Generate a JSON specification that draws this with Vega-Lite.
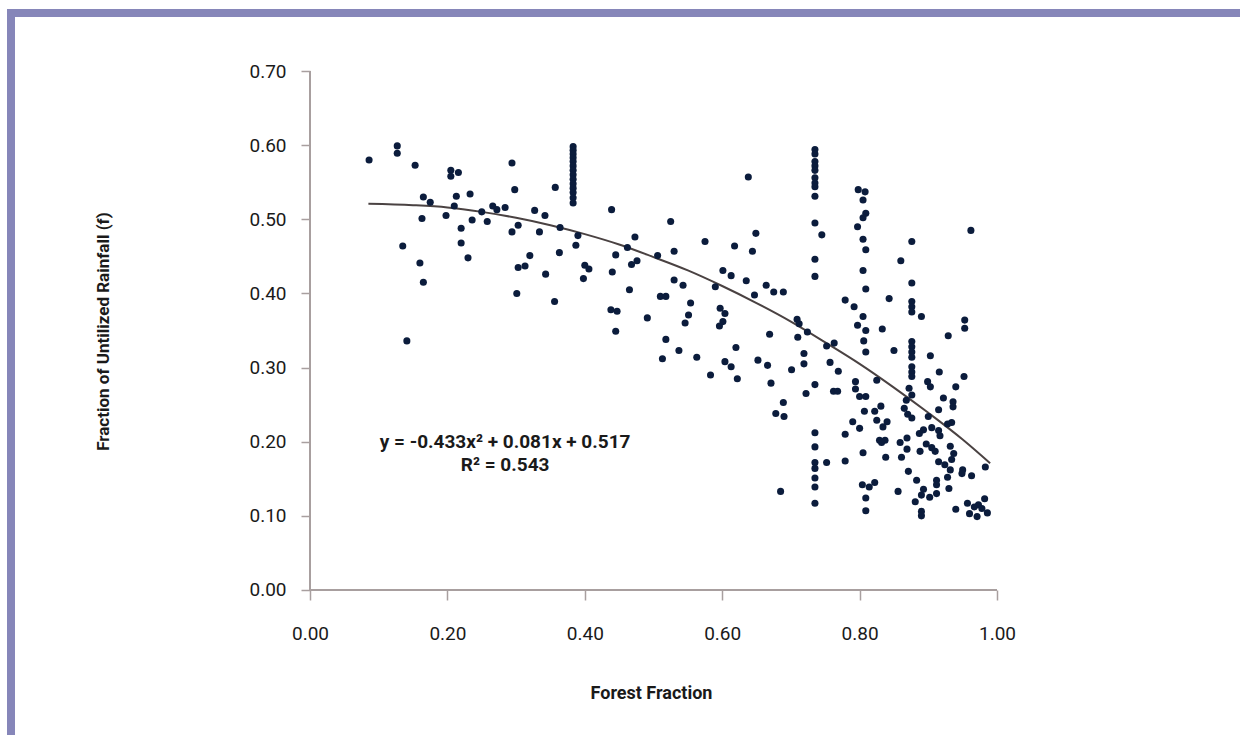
{
  "$schema": "https://vega.github.io/schema/vega-lite/v6.json",
  "width": 1229,
  "height": 722,
  "autosize": {"type": "none"},
  "padding": {"left": 11, "top": 13, "right": 0, "bottom": 0},
  "background": "white",
  "config": {
    "view": {"stroke": "#8686b9", "strokeWidth": 8, "strokeDash": [1229, 1951, 722, 0], "strokeCap": "square", "fill": "white"},
    "font": "Roboto, Liberation Sans, sans-serif"
  },
  "datasets": {
    "points": [
      {"forest":0.086,"f":0.580},{"forest":0.127,"f":0.599},{"forest":0.127,"f":0.589},{"forest":0.153,"f":0.573},{"forest":0.205,"f":0.566},{"forest":0.216,"f":0.563},{"forest":0.205,"f":0.558},{"forest":0.294,"f":0.576},{"forest":0.298,"f":0.540},{"forest":0.357,"f":0.543},{"forest":0.165,"f":0.530},{"forest":0.175,"f":0.523},{"forest":0.213,"f":0.531},{"forest":0.233,"f":0.534},{"forest":0.210,"f":0.518},{"forest":0.163,"f":0.501},{"forest":0.198,"f":0.505},{"forest":0.236,"f":0.499},{"forest":0.220,"f":0.488},{"forest":0.250,"f":0.510},{"forest":0.258,"f":0.497},{"forest":0.266,"f":0.518},{"forest":0.272,"f":0.513},{"forest":0.284,"f":0.516},{"forest":0.294,"f":0.483},{"forest":0.303,"f":0.492},{"forest":0.327,"f":0.512},{"forest":0.342,"f":0.505},{"forest":0.334,"f":0.483},{"forest":0.135,"f":0.464},{"forest":0.220,"f":0.468},{"forest":0.230,"f":0.448},{"forest":0.160,"f":0.441},{"forest":0.165,"f":0.415},{"forest":0.320,"f":0.451},{"forest":0.313,"f":0.437},{"forest":0.303,"f":0.435},{"forest":0.343,"f":0.426},{"forest":0.301,"f":0.400},{"forest":0.356,"f":0.389},{"forest":0.141,"f":0.336},
      {"forest":0.383,"f":0.598},{"forest":0.383,"f":0.593},{"forest":0.383,"f":0.588},{"forest":0.383,"f":0.583},{"forest":0.383,"f":0.578},{"forest":0.383,"f":0.572},{"forest":0.383,"f":0.566},{"forest":0.383,"f":0.560},{"forest":0.383,"f":0.554},{"forest":0.383,"f":0.548},{"forest":0.383,"f":0.542},{"forest":0.383,"f":0.536},{"forest":0.383,"f":0.529},{"forest":0.383,"f":0.522},
      {"forest":0.364,"f":0.489},{"forest":0.390,"f":0.478},{"forest":0.387,"f":0.465},{"forest":0.363,"f":0.455},{"forest":0.400,"f":0.438},{"forest":0.406,"f":0.433},{"forest":0.398,"f":0.420},{"forest":0.439,"f":0.513},{"forest":0.445,"f":0.452},{"forest":0.440,"f":0.429},{"forest":0.465,"f":0.405},{"forest":0.438,"f":0.378},{"forest":0.447,"f":0.376},{"forest":0.445,"f":0.349},{"forest":0.473,"f":0.476},{"forest":0.462,"f":0.462},{"forest":0.476,"f":0.444},{"forest":0.468,"f":0.439},{"forest":0.506,"f":0.451},{"forest":0.491,"f":0.367},{"forest":0.525,"f":0.497},{"forest":0.530,"f":0.457},{"forest":0.510,"f":0.396},{"forest":0.518,"f":0.396},{"forest":0.530,"f":0.418},{"forest":0.543,"f":0.411},{"forest":0.554,"f":0.387},{"forest":0.551,"f":0.371},{"forest":0.546,"f":0.360},{"forest":0.518,"f":0.338},{"forest":0.513,"f":0.312},{"forest":0.537,"f":0.323},{"forest":0.563,"f":0.314},{"forest":0.583,"f":0.290},{"forest":0.575,"f":0.470},{"forest":0.618,"f":0.464},{"forest":0.601,"f":0.431},{"forest":0.613,"f":0.424},{"forest":0.590,"f":0.409},{"forest":0.597,"f":0.380},{"forest":0.604,"f":0.373},{"forest":0.601,"f":0.362},{"forest":0.596,"f":0.356},{"forest":0.620,"f":0.327},{"forest":0.604,"f":0.308},{"forest":0.613,"f":0.301},{"forest":0.622,"f":0.285},
      {"forest":0.638,"f":0.557},{"forest":0.649,"f":0.481},{"forest":0.644,"f":0.457},{"forest":0.635,"f":0.417},{"forest":0.647,"f":0.398},{"forest":0.664,"f":0.411},{"forest":0.675,"f":0.402},{"forest":0.689,"f":0.402},{"forest":0.669,"f":0.345},{"forest":0.652,"f":0.310},{"forest":0.666,"f":0.303},{"forest":0.671,"f":0.279},{"forest":0.701,"f":0.297},{"forest":0.689,"f":0.253},{"forest":0.678,"f":0.238},{"forest":0.690,"f":0.234},{"forest":0.685,"f":0.133},{"forest":0.709,"f":0.365},{"forest":0.712,"f":0.359},{"forest":0.710,"f":0.341},{"forest":0.724,"f":0.348},{"forest":0.719,"f":0.319},{"forest":0.719,"f":0.305},{"forest":0.722,"f":0.265},{"forest":0.745,"f":0.479},{"forest":0.752,"f":0.329},{"forest":0.763,"f":0.333},{"forest":0.757,"f":0.307},{"forest":0.769,"f":0.295},{"forest":0.762,"f":0.268},{"forest":0.768,"f":0.268},{"forest":0.752,"f":0.172},{"forest":0.779,"f":0.391},{"forest":0.792,"f":0.382},{"forest":0.779,"f":0.210},{"forest":0.779,"f":0.174},
      {"forest":0.735,"f":0.594},{"forest":0.735,"f":0.588},{"forest":0.735,"f":0.578},{"forest":0.735,"f":0.572},{"forest":0.735,"f":0.566},{"forest":0.735,"f":0.556},{"forest":0.735,"f":0.549},{"forest":0.735,"f":0.544},{"forest":0.735,"f":0.531},{"forest":0.735,"f":0.495},{"forest":0.735,"f":0.446},{"forest":0.735,"f":0.423},{"forest":0.735,"f":0.277},{"forest":0.735,"f":0.212},{"forest":0.735,"f":0.193},{"forest":0.735,"f":0.172},{"forest":0.735,"f":0.164},{"forest":0.735,"f":0.151},{"forest":0.735,"f":0.139},{"forest":0.735,"f":0.117},
      {"forest":0.798,"f":0.540},{"forest":0.808,"f":0.537},{"forest":0.805,"f":0.526},{"forest":0.809,"f":0.508},{"forest":0.805,"f":0.502},{"forest":0.797,"f":0.490},{"forest":0.805,"f":0.473},{"forest":0.809,"f":0.459},{"forest":0.805,"f":0.431},{"forest":0.809,"f":0.406},{"forest":0.805,"f":0.369},{"forest":0.797,"f":0.357},{"forest":0.809,"f":0.350},{"forest":0.806,"f":0.336},{"forest":0.809,"f":0.321},{"forest":0.794,"f":0.281},{"forest":0.794,"f":0.271},{"forest":0.800,"f":0.261},{"forest":0.809,"f":0.261},{"forest":0.807,"f":0.241},{"forest":0.790,"f":0.227},{"forest":0.800,"f":0.218},{"forest":0.805,"f":0.185},{"forest":0.804,"f":0.142},{"forest":0.814,"f":0.139},{"forest":0.822,"f":0.145},{"forest":0.809,"f":0.124},{"forest":0.809,"f":0.107},{"forest":0.825,"f":0.283},{"forest":0.822,"f":0.241},{"forest":0.825,"f":0.229},{"forest":0.829,"f":0.202},
      {"forest":0.876,"f":0.470},{"forest":0.860,"f":0.444},{"forest":0.876,"f":0.414},{"forest":0.843,"f":0.393},{"forest":0.876,"f":0.389},{"forest":0.876,"f":0.382},{"forest":0.876,"f":0.375},{"forest":0.890,"f":0.369},{"forest":0.953,"f":0.364},{"forest":0.953,"f":0.353},{"forest":0.833,"f":0.352},{"forest":0.929,"f":0.343},{"forest":0.850,"f":0.323},{"forest":0.876,"f":0.335},{"forest":0.876,"f":0.328},{"forest":0.876,"f":0.321},{"forest":0.876,"f":0.314},{"forest":0.903,"f":0.316},{"forest":0.876,"f":0.301},{"forest":0.876,"f":0.294},{"forest":0.876,"f":0.288},{"forest":0.916,"f":0.294},{"forest":0.952,"f":0.288},{"forest":0.899,"f":0.281},{"forest":0.903,"f":0.274},{"forest":0.940,"f":0.274},{"forest":0.872,"f":0.272},{"forest":0.876,"f":0.263},{"forest":0.922,"f":0.259},{"forest":0.936,"f":0.254},{"forest":0.868,"f":0.256},{"forest":0.936,"f":0.247},{"forest":0.831,"f":0.248},{"forest":0.865,"f":0.245},{"forest":0.915,"f":0.243},{"forest":0.870,"f":0.237},{"forest":0.876,"f":0.232},{"forest":0.900,"f":0.234},{"forest":0.840,"f":0.227},{"forest":0.934,"f":0.226},{"forest":0.928,"f":0.224},{"forest":0.834,"f":0.220},{"forest":0.905,"f":0.219},{"forest":0.893,"f":0.216},{"forest":0.915,"f":0.215},{"forest":0.887,"f":0.211},{"forest":0.917,"f":0.208},{"forest":0.837,"f":0.202},{"forest":0.832,"f":0.199},{"forest":0.869,"f":0.205},{"forest":0.859,"f":0.199},{"forest":0.932,"f":0.194},{"forest":0.897,"f":0.197},{"forest":0.905,"f":0.192},{"forest":0.869,"f":0.190},{"forest":0.888,"f":0.187},{"forest":0.910,"f":0.187},{"forest":0.937,"f":0.184},{"forest":0.861,"f":0.179},{"forest":0.838,"f":0.179},{"forest":0.934,"f":0.176},{"forest":0.915,"f":0.173},{"forest":0.924,"f":0.169},{"forest":0.983,"f":0.166},{"forest":0.932,"f":0.162},{"forest":0.950,"f":0.162},{"forest":0.871,"f":0.160},{"forest":0.949,"f":0.157},{"forest":0.963,"f":0.154},{"forest":0.928,"f":0.152},{"forest":0.912,"f":0.148},{"forest":0.883,"f":0.148},{"forest":0.912,"f":0.142},{"forest":0.930,"f":0.137},{"forest":0.893,"f":0.136},{"forest":0.856,"f":0.133},{"forest":0.912,"f":0.130},{"forest":0.890,"f":0.128},{"forest":0.902,"f":0.125},{"forest":0.881,"f":0.119},{"forest":0.982,"f":0.123},{"forest":0.957,"f":0.117},{"forest":0.973,"f":0.115},{"forest":0.940,"f":0.109},{"forest":0.967,"f":0.112},{"forest":0.978,"f":0.110},{"forest":0.960,"f":0.103},{"forest":0.986,"f":0.104},{"forest":0.971,"f":0.099},{"forest":0.890,"f":0.106},{"forest":0.890,"f":0.100},{"forest":0.962,"f":0.485}
    ],
    "trend": [
      {"forest":0.085,"f":0.521},{"forest":0.15,"f":0.519},{"forest":0.2,"f":0.516},{"forest":0.25,"f":0.510},{"forest":0.3,"f":0.502},{"forest":0.35,"f":0.492},{"forest":0.4,"f":0.480},{"forest":0.45,"f":0.466},{"forest":0.5,"f":0.449},{"forest":0.55,"f":0.431},{"forest":0.6,"f":0.410},{"forest":0.65,"f":0.387},{"forest":0.7,"f":0.362},{"forest":0.75,"f":0.334},{"forest":0.8,"f":0.305},{"forest":0.85,"f":0.273},{"forest":0.9,"f":0.239},{"forest":0.95,"f":0.203},{"forest":0.99,"f":0.171}
    ],
    "anchor": [{}]
  },
  "layer": [
    {
      "data": {"name": "anchor"},
      "mark": {"type": "rule", "color": "#a89f9f", "strokeWidth": 2},
      "encoding": {
        "x": {"datum": 0, "type": "quantitative"},
        "y": {"datum": 0, "type": "quantitative"},
        "y2": {"datum": 0.7}
      }
    },
    {
      "data": {"name": "anchor"},
      "mark": {"type": "rule", "color": "#a89f9f", "strokeWidth": 2},
      "encoding": {
        "x": {"datum": 0, "type": "quantitative"},
        "x2": {"datum": 1},
        "y": {"datum": 0, "type": "quantitative"}
      }
    },
    {
      "data": {"name": "trend"},
      "mark": {"type": "line", "color": "#4a4242", "strokeWidth": 2, "interpolate": "monotone"},
      "encoding": {
        "x": {"field": "forest", "type": "quantitative", "scale": {"domain": [-0.43523, 1.35371], "nice": false, "zero": false}},
        "y": {"field": "f", "type": "quantitative", "scale": {"domain": [-0.19557, 0.77823], "nice": false, "zero": false}}
      }
    },
    {
      "data": {"name": "points"},
      "mark": {"type": "circle", "color": "#0b1c3c", "size": 50, "opacity": 1},
      "encoding": {
        "x": {
          "field": "forest", "type": "quantitative",
          "scale": {"domain": [-0.43523, 1.35371], "nice": false, "zero": false},
          "axis": {
            "title": "Forest Fraction", "offset": -145, "domain": false, "grid": false,
            "values": [0, 0.2, 0.4, 0.6, 0.8, 1], "format": ".2f",
            "tickSize": 10, "tickColor": "#a89f9f", "tickWidth": 1.5,
            "labelFontSize": 19, "labelColor": "#1a1a1a", "labelPadding": 24, "labelFlush": false, "labelOverlap": false,
            "titleFontSize": 18, "titleFontWeight": "bold", "titleColor": "#1a1a1a",
            "titleX": 640, "titleY": 108, "titleBaseline": "alphabetic", "titleAlign": "center"
          }
        },
        "y": {
          "field": "f", "type": "quantitative",
          "scale": {"domain": [-0.19557, 0.77823], "nice": false, "zero": false},
          "axis": {
            "title": "Fraction of Untilized Rainfall (f)", "offset": -299, "domain": false, "grid": false,
            "values": [0, 0.1, 0.2, 0.3, 0.4, 0.5, 0.6, 0.7], "format": ".2f",
            "tickSize": 9, "tickColor": "#a89f9f", "tickWidth": 1.5,
            "labelFontSize": 19, "labelColor": "#1a1a1a", "labelPadding": 15, "labelOverlap": false,
            "titleFontSize": 17, "titleFontWeight": "bold", "titleColor": "#1a1a1a",
            "titleX": -202, "titleY": 318, "titleAngle": 270, "titleBaseline": "alphabetic", "titleAlign": "center"
          }
        }
      }
    },
    {
      "data": {"name": "anchor"},
      "mark": {"type": "text", "text": ["y = -0.433x² + 0.081x + 0.517", "R² = 0.543"], "fontWeight": "bold", "fontSize": 19, "lineHeight": 23, "align": "center", "baseline": "alphabetic", "color": "#1a1a1a"},
      "encoding": {
        "x": {"datum": 0.284, "type": "quantitative"},
        "y": {"datum": 0.1915, "type": "quantitative"}
      }
    }
  ]
}
